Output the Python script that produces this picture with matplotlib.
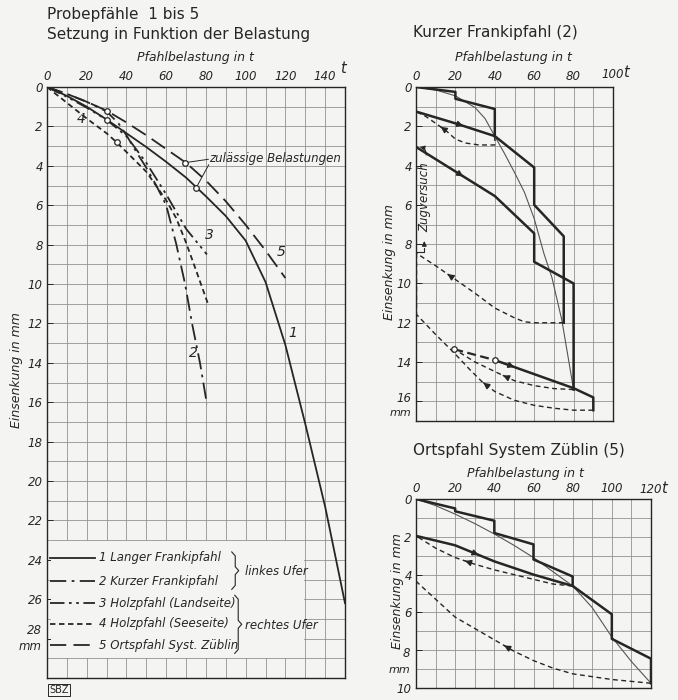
import numpy as np
import matplotlib.pyplot as plt
from matplotlib.patches import Rectangle

W, H = 678, 700
INK = '#262626'
GRID = '#939393'
BG = '#f4f4f2'
plt.rcParams['font.family'] = ['DejaVu Sans']

# -----------------------------
# Probepfähle 1 bis 5 (load t -> settlement mm)
# -----------------------------
p1_t = [0, 10, 20, 30, 40, 50, 60, 70, 80, 90, 100, 110, 120, 130, 140, 150]
p1_s = [0, 0.45, 1.0, 1.65, 2.35, 3.05, 3.8, 4.6, 5.55, 6.55, 7.8, 9.9, 13.1, 17.1, 21.3, 26.2]
p2_t = [0, 10, 20, 30, 36, 40, 45, 50, 55, 60, 65, 69.5, 73, 77, 80.5]
p2_s = [0, 0.35, 0.75, 1.24, 1.85, 2.45, 3.3, 4.1, 5.0, 6.0, 7.95, 10.0, 12.0, 14.0, 16.1]
p3_t = [0, 10, 20, 30, 40, 50, 60, 70, 80.5]
p3_s = [0, 0.5, 1.05, 1.66, 2.5, 3.85, 5.45, 7.2, 8.5]
p4_t = [0, 10, 20, 30, 35, 40, 50, 60, 65, 70, 75, 81]
p4_s = [0, 0.8, 1.6, 2.35, 2.8, 3.3, 4.3, 5.75, 6.65, 7.9, 9.3, 11.0]
p5_t = [0, 10, 20, 30, 40, 50, 60, 70, 80, 90, 100, 110, 120]
p5_s = [0, 0.35, 0.75, 1.2, 1.8, 2.45, 3.15, 3.85, 4.75, 5.8, 7.0, 8.3, 9.7]

# zulaessige Belastungen (marked points)
ok_t = [30, 30, 35, 69.5, 75]
ok_s = [1.24, 1.66, 2.8, 3.84, 5.13]

legend_names = ['1 Langer Frankipfahl', '2 Kurzer Frankipfahl',
                '3 Holzpfahl (Landseite)', '4 Holzpfahl (Seeseite)',
                '5 Ortspfahl Syst. Züblin']

# -----------------------------
# Kurzer Frankipfahl (2)
# -----------------------------
k_step_t = [0, 20, 20, 40, 40]
k_step_s = [0, 0.25, 0.6, 1.12, 2.5]
k_un1_t = [40, 40, 32, 25, 20, 15, 10, 5, 0]
k_un1_s = [2.5, 2.95, 2.95, 2.85, 2.65, 2.2, 1.85, 1.5, 1.25]
k_re1_t = [0, 20, 40, 60, 60, 75, 75]
k_re1_s = [1.25, 1.85, 2.5, 4.1, 6.0, 7.6, 12.0]
k_un2_t = [75, 60, 55, 50, 45, 40, 30, 20, 10, 0]
k_un2_s = [12.0, 12.0, 11.95, 11.75, 11.5, 11.25, 10.5, 9.8, 9.1, 8.45]
k_zug_t = [0, 0]
k_zug_s = [8.45, 11.55]
k_re2_t = [0, 20, 40, 60, 60, 80, 80]
k_re2_s = [3.05, 4.3, 5.55, 7.45, 8.9, 10.0, 15.4]
k_un3_t = [80, 70, 60, 50, 43.5, 30, 19.5]
k_un3_s = [15.4, 15.35, 15.2, 14.95, 14.65, 14.0, 13.35]
k_re3a_t = [19.5, 40]
k_re3a_s = [13.35, 13.9]
k_re3_t = [40, 80, 90, 90]
k_re3_s = [13.9, 15.33, 15.8, 16.45]
k_un4_t = [90, 80, 70, 60, 50, 40, 33.5, 27, 20, 10, 0]
k_un4_s = [16.45, 16.45, 16.35, 16.2, 15.95, 15.5, 15.0, 14.35, 13.6, 12.6, 11.55]
k_env_t = [0, 10, 20, 30, 35, 40, 45, 50, 55, 60, 65, 69, 74, 80]
k_env_s = [0, 0.15, 0.45, 1.05, 1.6, 2.5, 3.4, 4.35, 5.35, 6.7, 8.5, 9.7, 11.85, 15.4]

# -----------------------------
# Ortspfahl System Züblin (5)
# -----------------------------
z_step_t = [0, 20, 20, 40, 40, 60, 60, 80, 80, 100, 100, 120, 120]
z_step_s = [0, 0.5, 0.65, 1.15, 1.8, 2.4, 3.2, 4.1, 4.6, 6.1, 7.4, 8.45, 9.75]
z_re_t = [0, 20, 40, 60, 80]
z_re_s = [1.95, 2.45, 3.3, 4.0, 4.6]
z_un1_t = [80, 70, 60, 50, 40, 30, 20, 10, 0]
z_un1_s = [4.6, 4.5, 4.25, 4.0, 3.75, 3.45, 3.1, 2.6, 1.95]
z_un2_t = [120, 110, 100, 90, 80, 70, 60, 50, 40, 30, 20, 10, 0]
z_un2_s = [9.75, 9.65, 9.55, 9.4, 9.25, 8.95, 8.55, 8.05, 7.45, 6.85, 6.25, 5.3, 4.35]
z_env_t = [0, 10, 20, 30, 40, 50, 60, 70, 80, 90, 100, 110, 120]
z_env_s = [0, 0.35, 0.8, 1.3, 1.85, 2.45, 3.1, 3.85, 4.6, 5.75, 7.3, 8.6, 9.75]


def px(x, y):
    return x / W, 1 - y / H


def setup(ax, tmax, smax, tstep=20):
    ax.set_facecolor(BG)
    ax.set_xlim(0, tmax)
    ax.set_ylim(smax, 0)
    ax.xaxis.tick_top()
    ax.set_xticks(np.arange(0, tmax + 1, tstep))
    ax.set_xticks(np.arange(10, tmax, tstep), minor=True)
    ax.set_yticks(np.arange(0, smax + 1, 2))
    ax.set_yticks(np.arange(1, smax, 2), minor=True)
    ax.grid(True, which='both', color=GRID, lw=0.6)
    ax.set_axisbelow(True)
    ax.tick_params(which='both', length=0, labelsize=8.5, colors=INK, pad=3)
    ax.tick_params(axis='y', which='major', direction='in', length=4, width=0.7)
    for sp in ax.spines.values():
        sp.set_color(INK)
        sp.set_linewidth(1.0)


def italic_ticks(ax):
    for lbl in ax.get_xticklabels() + ax.get_yticklabels():
        lbl.set_fontstyle('italic')


def arrow(ax, xs, ys, i, frac=0.5, lw=1.0):
    x0, y0 = xs[i], ys[i]
    x1, y1 = xs[i + 1], ys[i + 1]
    xa, ya = x0 + frac * (x1 - x0), y0 + frac * (y1 - y0)
    xb, yb = xa - 0.02 * (x1 - x0), ya - 0.02 * (y1 - y0)
    ax.annotate('', xy=(xa, ya), xytext=(xb, yb),
                arrowprops=dict(arrowstyle='-|>', color=INK, lw=lw,
                                mutation_scale=9))


fig = plt.figure(figsize=(W / 100, H / 100), dpi=100, facecolor=BG)

# ---------- main chart ----------
ax = fig.add_axes([47 / W, 1 - 678 / H, 298 / W, 591 / H])
setup(ax, 150, 30)
ax.set_xticklabels([str(v) for v in range(0, 141, 20)])
ax.set_yticklabels([str(v) for v in range(0, 27, 2)] + ['', ''])
italic_ticks(ax)
ax.text(-2.5, 27.6, '28', ha='right', va='center', fontsize=8.5,
        style='italic', color=INK)
ax.text(-2.5, 28.4, 'mm', ha='right', va='center', fontsize=8.5,
        style='italic', color=INK)
ax.text(149, -0.55, 't', ha='center', va='bottom', fontsize=10.5,
        style='italic', color=INK)

styles = ['-', (0, (9, 3, 1.5, 3)), (0, (8, 2.5, 1.5, 2.5, 1.5, 2.5)),
          (0, (3, 2)), (0, (9, 4))]
series = [(p1_t, p1_s), (p2_t, p2_s), (p3_t, p3_s), (p4_t, p4_s), (p5_t, p5_s)]
for (t, s), ls in zip(series, styles):
    ax.plot(t, s, color=INK, lw=1.3, ls=ls, zorder=3)
ax.plot(ok_t, ok_s, 'o', ms=4, mfc='white', mec=INK, mew=0.9, zorder=4)

ax.text(121.5, 12.5, '1', fontsize=10, style='italic', color=INK, va='center')
ax.text(71.5, 13.5, '2', fontsize=10, style='italic', color=INK, va='center')
ax.text(79.5, 7.5, '3', fontsize=10, style='italic', color=INK, va='center')
ax.text(15.0, 1.6, '4', fontsize=10, style='italic', color=INK, va='center')
ax.text(115.5, 8.4, '5', fontsize=10, style='italic', color=INK, va='center')

ax.plot([ok_t[3], 81.2], [ok_s[3], 3.67], color=INK, lw=0.7, zorder=3)
ax.plot([ok_t[4], 81.4], [ok_s[4], 3.95], color=INK, lw=0.7, zorder=3)
ax.text(81.5, 3.62, 'zulässige Belastungen', fontsize=8.5, style='italic',
        color=INK, va='center')

# legend block
ax.add_patch(Rectangle((2, 23.04), 127.5, 5.92, facecolor=BG,
                       edgecolor='none', zorder=1))
rows = [23.9, 25.1, 26.2, 27.25, 28.35]
for name, ls, r in zip(legend_names, styles, rows):
    ax.plot([1.5, 24.2], [r, r], color=INK, lw=1.3, ls=ls, zorder=3)
    ax.text(26.3, r, name, fontsize=8.5, style='italic', color=INK,
            va='center', zorder=3)


def brace(x, y0, y1, w):
    ym = (y0 + y1) / 2
    xs = [x, x + w * 0.5, x + w * 0.5, x + w, x + w * 0.5, x + w * 0.5, x]
    ys = [y0, y0 + 0.2, ym - 0.2, ym, ym + 0.2, y1 - 0.2, y1]
    ax.plot(xs, ys, color=INK, lw=0.8, zorder=3)


brace(93, 23.6, 25.5, 3.5)
brace(94.5, 25.8, 28.75, 3.5)
ax.text(99.5, 24.6, 'linkes Ufer', fontsize=8.5, style='italic', color=INK,
        va='center', zorder=3)
ax.text(99.5, 27.35, 'rechtes Ufer', fontsize=8.5, style='italic', color=INK,
        va='center', zorder=3)

fig.text(*px(47, 14), 'Probepfähle  1 bis 5', fontsize=11, color=INK, va='center')
fig.text(*px(47, 34), 'Setzung in Funktion der Belastung', fontsize=11,
         color=INK, va='center')
fig.text(*px(195, 58), 'Pfahlbelastung in t', fontsize=9, style='italic',
         color=INK, ha='center', va='center')
fig.text(*px(17, 370), 'Einsenkung in mm', fontsize=9, style='italic',
         color=INK, ha='center', va='center', rotation=90)
fig.text(*px(49, 690), 'SBZ', fontsize=7, color=INK, va='center',
         bbox=dict(boxstyle='square,pad=0.15', fc='none', ec=INK, lw=0.7))

# ---------- Kurzer Frankipfahl (2) ----------
ak = fig.add_axes([416 / W, 1 - 421 / H, 197 / W, 334 / H])
setup(ak, 100, 17)
ak.set_xticklabels([str(v) for v in range(0, 81, 20)] + [''])
ak.set_yticklabels([str(v) for v in range(0, 15, 2)] + [''])
italic_ticks(ak)
ak.text(100, -0.3, '100', ha='center', va='bottom', fontsize=8.5,
        style='italic', color=INK)
ak.text(106.5, -0.35, 't', ha='center', va='bottom', fontsize=10.5,
        style='italic', color=INK)
ak.text(-2.5, 15.85, '16', ha='right', va='center', fontsize=8.5,
        style='italic', color=INK)
ak.text(-2.5, 16.6, 'mm', ha='right', va='center', fontsize=8,
        style='italic', color=INK)

thick = dict(color=INK, lw=1.8, zorder=3)
thin = dict(color='#555555', lw=0.8, zorder=2)
dash = dict(color=INK, lw=1.0, ls=(0, (3.5, 2.5)), zorder=3)

ak.plot(k_env_t, k_env_s, **thin)
ak.plot(k_step_t, k_step_s, **thick)
ak.plot(k_un1_t, k_un1_s, **dash)
ak.plot(k_re1_t, k_re1_s, **thick)
ak.plot(k_un2_t, k_un2_s, **dash)
ak.plot(k_zug_t, k_zug_s, **dash)
ak.plot(k_re2_t, k_re2_s, **thick)
ak.plot(k_un3_t, k_un3_s, **dash)
ak.plot(k_re3a_t, k_re3a_s, color=INK, lw=1.6, ls=(0, (4, 2)), zorder=3)
ak.plot(k_re3_t, k_re3_s, **thick)
ak.plot(k_un4_t, k_un4_s, **dash)
ak.plot(k_re3a_t, k_re3a_s, 'o', ms=4, mfc='white', mec=INK, mew=0.9, zorder=4)
arrow(ak, k_un1_t, k_un1_s, 5, 0.5)
arrow(ak, k_re1_t, k_re1_s, 1, 0.2)
arrow(ak, k_un2_t, k_un2_s, 7, 0.4)
arrow(ak, k_re2_t, k_re2_s, 1, 0.2)
arrow(ak, k_un3_t, k_un3_s, 3, 0.9)
arrow(ak, k_re3_t, k_re3_s, 0, 0.25)
arrow(ak, k_un4_t, k_un4_s, 5, 0.9)

# Zugversuch annotation
ak.plot([0.3, 4.2, 4.2], [8.4, 8.4, 8.2], color=INK, lw=0.8, zorder=3)
ak.annotate('', xy=(4.2, 7.7), xytext=(4.2, 8.2),
            arrowprops=dict(arrowstyle='-|>', color=INK, lw=0.8, mutation_scale=7))
ak.text(4.3, 5.6, 'Zugversuch', rotation=90, fontsize=8.5, style='italic',
        color=INK, ha='center', va='center', zorder=3)
ak.annotate('', xy=(0.5, 3.05), xytext=(5.0, 3.6),
            arrowprops=dict(arrowstyle='-|>', color=INK, lw=0.8, mutation_scale=7,
                            connectionstyle='arc3,rad=0.6'))

fig.text(*px(413, 33), 'Kurzer Frankipfahl (2)', fontsize=11, color=INK,
         va='center')
fig.text(*px(513, 57), 'Pfahlbelastung in t', fontsize=9, style='italic',
         color=INK, ha='center', va='center')
fig.text(*px(390, 262), 'Einsenkung in mm', fontsize=9, style='italic',
         color=INK, ha='center', va='center', rotation=90)

# ---------- Ortspfahl System Züblin (5) ----------
az = fig.add_axes([416 / W, 1 - 688 / H, 235 / W, 189 / H])
setup(az, 120, 10)
az.set_xticklabels([str(v) for v in range(0, 101, 20)] + [''])
az.set_yticklabels(['0', '2', '4', '6', '', '10'])
italic_ticks(az)
az.text(120, -0.15, '120', ha='center', va='bottom', fontsize=8.5,
        style='italic', color=INK)
az.text(126.5, -0.18, 't', ha='center', va='bottom', fontsize=10.5,
        style='italic', color=INK)
az.text(-3, 8.2, '8', ha='right', va='center', fontsize=8.5,
        style='italic', color=INK)
az.text(-3, 9.05, 'mm', ha='right', va='center', fontsize=8,
        style='italic', color=INK)

az.plot(z_env_t, z_env_s, **thin)
az.plot(z_step_t, z_step_s, **thick)
az.plot(z_re_t, z_re_s, **thick)
az.plot(z_un1_t, z_un1_s, **dash)
az.plot(z_un2_t, z_un2_s, **dash)
arrow(az, z_re_t, z_re_s, 1, 0.6)
arrow(az, z_un1_t, z_un1_s, 5, 0.5)
arrow(az, z_un2_t, z_un2_s, 7, 0.5)

fig.text(*px(413, 450), 'Ortspfahl System Züblin (5)', fontsize=11,
         color=INK, va='center')
fig.text(*px(525, 473), 'Pfahlbelastung in t', fontsize=9, style='italic',
         color=INK, ha='center', va='center')
fig.text(*px(397, 591), 'Einsenkung in mm', fontsize=9, style='italic',
         color=INK, ha='center', va='center', rotation=90)

fig.savefig('out.png', dpi=100, facecolor=BG)
